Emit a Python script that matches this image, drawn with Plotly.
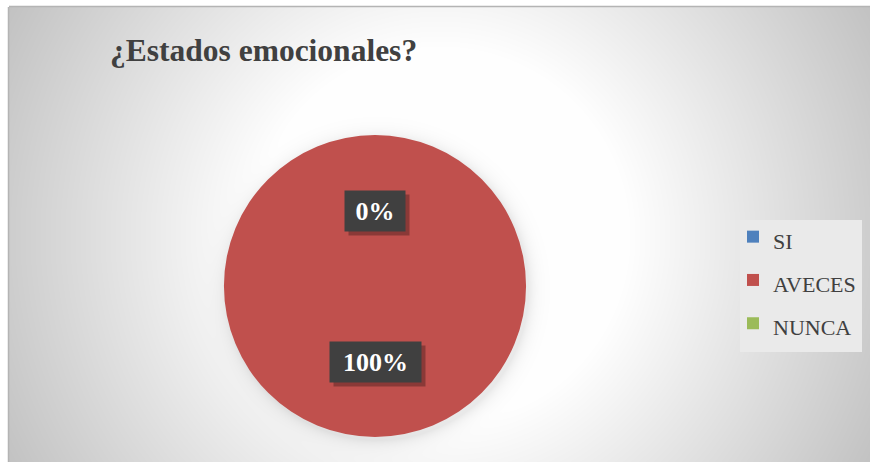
import base64, struct, zlib
import numpy as np
import plotly.graph_objects as go

# ---- data ----
title_text = "¿Estados emocionales?"
labels = ["SI", "AVECES", "NUNCA"]
values = [0, 100, 0]
colors = ["#4F81BD", "#C0504D", "#9BBB59"]

W, H = 870, 462
OFF = 0  # body margin is removed in post_script


def px(xp):
    return (xp - OFF) / W


def py(yp):
    return 1 - (yp - OFF) / H


# chart-area frame (figure pixels)
FX0, FY0 = 9, 7
# pie domain (paper), pie spans page x 224..526, y 135..437
dom_x = [px(224), px(526)]
dom_y = [py(437), py(135)]


def png_data_uri(arr):
    h, w, _ = arr.shape
    raw = b"".join(b"\x00" + arr[i].tobytes() for i in range(h))

    def chunk(tag, data):
        c = struct.pack(">I", len(data)) + tag + data
        return c + struct.pack(">I", zlib.crc32(tag + data) & 0xFFFFFFFF)

    png = b"\x89PNG\r\n\x1a\n"
    png += chunk(b"IHDR", struct.pack(">IIBBBBB", w, h, 8, 2, 0, 0, 0))
    png += chunk(b"IDAT", zlib.compress(raw, 9))
    png += chunk(b"IEND", b"")
    return "data:image/png;base64," + base64.b64encode(png).decode()


# radial gradient background for the chart area
iw, ih = W - FX0, H - FY0
yy, xx = np.mgrid[0:ih, 0:iw].astype(float)
xx += FX0 + OFF
yy += FY0 + OFF
cx, cy = 440.0, 236.0
r = np.hypot(xx - cx, yy - cy)
t = np.clip((r - 185.0) / (490.0 - 185.0), 0, 1)
g = 255.0 - t * (255.0 - 194.0)
# soft shadow around the pie
pcx = (dom_x[0] + dom_x[1]) / 2 * W + OFF
pcy = (1 - (dom_y[0] + dom_y[1]) / 2) * H + OFF
pr = (dom_x[1] - dom_x[0]) * W / 2
d = np.hypot(xx - pcx - 2, yy - pcy - 3) - pr
shade = np.where(d > 0, 22.0 * np.exp(-d / 7.0), 22.0)
g = np.clip(g - shade, 0, 255)
img = np.repeat(g[:, :, None], 3, axis=2).astype(np.uint8)
bg_uri = png_data_uri(img)

fig = go.Figure()
fig.add_trace(
    go.Pie(
        labels=[f'<span style="font-size:22px">{l}</span>' for l in labels],
        values=values,
        marker=dict(colors=colors, line=dict(width=0)),
        textinfo="none",
        sort=False,
        direction="clockwise",
        rotation=0,
        domain=dict(x=dom_x, y=dom_y),
        hoverinfo="percent",
    )
)

# data labels (percentages computed from the values)
total = sum(values)
pct_texts = [f"{round(v / total * 100)}%" for v in values]
cxp = (dom_x[0] + dom_x[1]) / 2
cyp = (dom_y[0] + dom_y[1]) / 2
ry = (dom_y[1] - dom_y[0]) / 2
label_font = dict(family="Liberation Serif", size=26, color="white")
for idx, frac, wbox in [(0, 0.5, 58), (1, -0.5, 89)]:
    ypos = cyp + frac * ry
    # shadow
    fig.add_annotation(
        x=cxp, y=ypos, xref="paper", yref="paper", text=" ", showarrow=False,
        xanchor="center", yanchor="middle",
        width=wbox, height=38, bgcolor="rgba(0,0,0,0.28)", xshift=4, yshift=-4,
        font=label_font,
    )
    fig.add_annotation(
        x=cxp, y=ypos, xref="paper", yref="paper", text=f"<b>{pct_texts[idx]}</b>",
        showarrow=False, xanchor="center", yanchor="middle",
        width=wbox, height=38, bgcolor="#404040", font=label_font,
    )

fig.update_layout(
    width=W,
    height=H,
    margin=dict(l=0, r=0, t=0, b=0),
    paper_bgcolor="white",
    plot_bgcolor="white",
    title=dict(
        text=f"<b>{title_text}</b>",
        x=px(110),
        xanchor="left",
        y=py(50),
        yanchor="middle",
        font=dict(family="Liberation Serif", size=31.5, color="#404040"),
    ),
    legend=dict(
        x=px(733),
        xanchor="left",
        y=py(210),
        yanchor="top",
        bgcolor="rgba(0,0,0,0)",
        font=dict(family="Liberation Serif", size=31, color="#404040"),
        itemwidth=30,
        traceorder="normal",
    ),
    images=[
        dict(
            source=bg_uri, xref="paper", yref="paper",
            x=FX0 / W, y=1 - FY0 / H, sizex=iw / W, sizey=ih / H,
            xanchor="left", yanchor="top", sizing="stretch", layer="below",
        )
    ],
    shapes=[
        dict(type="rect", xref="paper", yref="paper",
             x0=px(740), x1=px(862), y0=py(352), y1=py(220),
             fillcolor="#eaeaea", line=dict(width=0), layer="below"),
        dict(type="line", xref="paper", yref="paper",
             x0=FX0 / W, x1=1, y0=1 - (FY0 - 0.5) / H, y1=1 - (FY0 - 0.5) / H,
             line=dict(color="#b4b4b4", width=1.5)),
        dict(type="line", xref="paper", yref="paper",
             x0=(FX0 - 0.5) / W, x1=(FX0 - 0.5) / W, y0=0, y1=1 - FY0 / H,
             line=dict(color="#b4b4b4", width=1.5)),
    ],
)

fig.write_html(
    "out.html",
    config={"displayModeBar": False},
    post_script="document.body.style.margin='0';"
    "document.documentElement.style.overflow='hidden';"
    "document.body.style.overflow='hidden';",
)
